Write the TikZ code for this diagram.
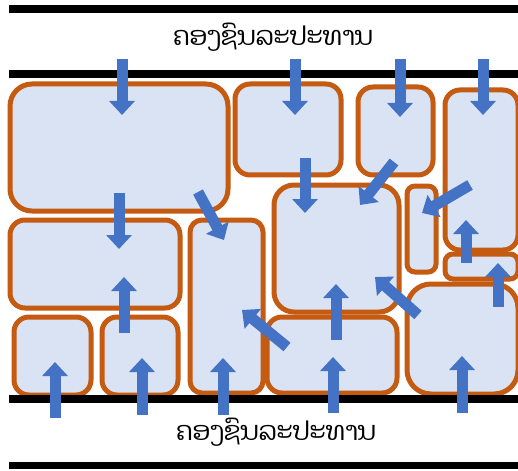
\documentclass[tikz,border=0pt]{standalone}
\usepackage{fontspec}
\newfontfamily\laofont[Script=Lao]{Dhyana}
\usetikzlibrary{arrows.meta}
\definecolor{boxfill}{RGB}{218,227,243}
\definecolor{boxline}{RGB}{197,90,17}
\definecolor{arrblue}{RGB}{68,114,196}
\tikzset{
  block/.style={fill=boxfill,draw=boxline,line width=5pt,rounded corners=#1},
  block/.default=15pt,
  wall/.style={line width=7.5pt,black},
  force/.style={arrblue,line width=11pt,-{Triangle[width=25pt,length=14pt]}},
  lbl/.style={font=\laofont\fontsize{26}{30}\selectfont,inner sep=0pt}
}
\begin{document}
\begin{tikzpicture}[x=1pt,y=-1pt]
\useasboundingbox (0,0) rectangle (518,470);
% boxes
\draw[block=22pt] (10,84) rectangle (228,211);
\draw[block] (10,220) rectangle (180,308);
\draw[block] (14,317) rectangle (91,395);
\draw[block] (102,317) rectangle (178,395);
\draw[block=12pt] (190,220) rectangle (263,393);
\draw[block] (235,84) rectangle (341,175);
\draw[block] (358,87) rectangle (433,175);
\draw[block] (445,90) rectangle (518,250);
\draw[block=20pt] (274,185) rectangle (399,312);
\draw[block] (267,317) rectangle (397,393);
\draw[block=8pt] (407,186) rectangle (436,272);
\draw[block=8pt] (445,254) rectangle (518,279);
\draw[block=24pt] (407,284) rectangle (518,394);
% walls
\draw[wall] (9,9) -- (518,9);
\draw[wall] (9,74) -- (518,74);
\draw[wall] (9,399) -- (518,399);
\draw[wall] (9,465.5) -- (518,465.5);
% labels
\node[lbl] (top) at (273,37) {ຄອງຊົນລະປະທານ};
\node[lbl] (bot) at (276,432) {ຄອງຊົນລະປະທານ};
% forces
\draw[force] (122,59) -- (122,115);
\draw[force] (295,59) -- (295,115);
\draw[force] (400,59) -- (400,117);
\draw[force] (483,59) -- (483,115);
\draw[force] (119,193) -- (119,249);
\draw[force] (198,192) -- (224,240);
\draw[force] (305,158) -- (305,213);
\draw[force] (394,162) -- (360,205);
\draw[force] (470,185) -- (422,213);
\draw[force] (466,263) -- (466,220);
\draw[force] (498,307) -- (498,263);
\draw[force] (336,340) -- (336,284);
\draw[force] (418,315) -- (375,277);
\draw[force] (287,347) -- (242,310);
\draw[force] (223,415) -- (223,358);
\draw[force] (333,413) -- (333,357);
\draw[force] (462,413) -- (462,356);
\draw[force] (55,418) -- (55,362);
\draw[force] (142,415) -- (142,358);
\draw[force] (124,333) -- (124,277);
\end{tikzpicture}
\end{document}
